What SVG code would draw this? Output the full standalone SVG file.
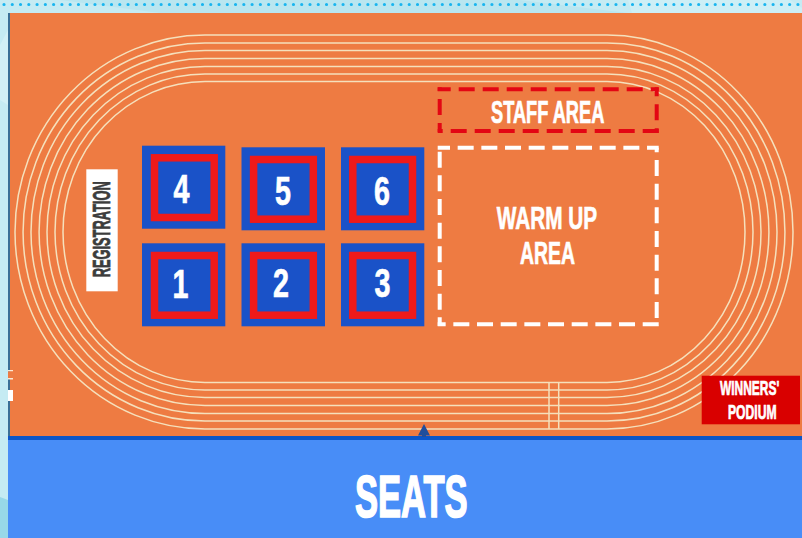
<svg xmlns="http://www.w3.org/2000/svg" width="802" height="538" viewBox="0 0 802 538">
<style>
text{font-family:"Liberation Sans",Arial,sans-serif;font-weight:700;fill:#fff;stroke:#fff;stroke-width:.6;vector-effect:non-scaling-stroke}
.track{fill:none;stroke:#f5e0bc;stroke-width:1.5}
.outer{fill:#1a52c8}
.inner{fill:#1a52c8;stroke:#ef1a1a;stroke-width:7.5}
.red{fill:none;stroke:#e30613;stroke-width:4;stroke-dasharray:16 8}
.white{fill:none;stroke:#fff;stroke-width:4;stroke-dasharray:16 7.67}
.d{font-size:41px}
</style>
<g id="background">
<rect width="802" height="538" fill="#c5ebf3"/>
<path d="M0 497L8 500V538H0Z" fill="#98d8e8"/>
<path d="M0 45L8 30V105L0 100Z" fill="#d2f0f6"/>
<path d="M60 0H520L628 13H160Z" fill="#b9e6f0"/>
<path d="M628 0H790L802 8V13H632Z" fill="#cdeff6"/>
<line x1="4" y1="4.5" x2="802" y2="4.5" stroke="#19b5ef" stroke-width="3.2" stroke-dasharray="0 8.27" stroke-linecap="round"/>
<rect x="8" y="13" width="794" height="423" fill="#ee7b42"/>
<rect x="8" y="13" width="2" height="423" fill="#3a6f96"/>
<rect x="8" y="370" width="5" height="1.5" fill="#fbe9d3"/>
<rect x="8" y="371.5" width="5" height="6.5" fill="#ee7b42"/>
<rect x="8" y="378" width="5" height="1.5" fill="#fbe9d3"/>
<rect x="8" y="390" width="5" height="11" fill="#fff"/>
</g>
<g id="track">
<path class="track" d="M205 35H607A186 197 0 0 1 607 429H205A190 197 0 0 1 205 35Z"/>
<path class="track" d="M205 43H607A178 189 0 0 1 607 421H205A182 189 0 0 1 205 43Z"/>
<path class="track" d="M205 50.5H607A170 181.5 0 0 1 607 413.5H205A174 181.5 0 0 1 205 50.5Z"/>
<path class="track" d="M205 58.5H607A162 173.5 0 0 1 607 405.5H205A166 173.5 0 0 1 205 58.5Z"/>
<path class="track" d="M205 66.5H607A154 165.5 0 0 1 607 397.5H205A158 165.5 0 0 1 205 66.5Z"/>
<path class="track" d="M205 74H607A146 158 0 0 1 607 390H205A150 158 0 0 1 205 74Z"/>
<path class="track" d="M205 81.5H607A138 150.5 0 0 1 607 382.5H205A142 150.5 0 0 1 205 81.5Z"/>
<line class="track" x1="549" y1="383" x2="549" y2="429"/>
<line class="track" x1="558.7" y1="383" x2="558.7" y2="429"/>
</g>
<g id="seats">
<rect x="8" y="440" width="794" height="98" fill="#488df7"/>
<rect x="8" y="436" width="794" height="4" fill="#0b55c8"/>
<text transform="translate(355 516.8) scale(.586 1)" font-size="59" style="stroke-width:1.4">SEATS</text>
</g>
<g id="entrance-marker"><path d="M424 424L430 435.5H426V437H422V435.5H418Z" fill="#1f4e9c"/></g>
<g id="registration">
<rect x="86.3" y="169.3" width="31.4" height="122" fill="#fff"/>
<text transform="translate(110.3 277.3) rotate(-90) scale(.558 1)" font-size="23" style="fill:#3c3c3c;stroke:#3c3c3c">REGISTRATION</text>
</g>
<g id="mat-4"><rect class="outer" x="142" y="145.7" width="83.3" height="83"/><rect class="inner" x="154.5" y="157.8" width="59.7" height="59.7"/><text class="d" transform="translate(173.5 202.5) scale(.7 1)">4</text></g>
<g id="mat-5"><rect class="outer" x="241.5" y="147.3" width="83.5" height="83"/><rect class="inner" x="253.6" y="159.5" width="59.7" height="59.7"/><text class="d" transform="translate(275 204.5) scale(.7 1)">5</text></g>
<g id="mat-6"><rect class="outer" x="341" y="147.3" width="83.3" height="83"/><rect class="inner" x="352.8" y="159.5" width="59.7" height="59.7"/><text class="d" transform="translate(374 204.5) scale(.7 1)">6</text></g>
<g id="mat-1"><rect class="outer" x="142" y="243.3" width="83.3" height="83"/><rect class="inner" x="154.5" y="255.5" width="59.7" height="59.7"/><text class="d" transform="translate(172.5 298) scale(.7 1)">1</text></g>
<g id="mat-2"><rect class="outer" x="241.5" y="243.3" width="83.5" height="83"/><rect class="inner" x="253.6" y="255.5" width="59.7" height="59.7"/><text class="d" transform="translate(273 297) scale(.7 1)">2</text></g>
<g id="mat-3"><rect class="outer" x="341" y="243.3" width="83.3" height="83"/><rect class="inner" x="352.8" y="255.5" width="59.7" height="59.7"/><text class="d" transform="translate(374.5 296.5) scale(.7 1)">3</text></g>
<g id="staff-area">
<path class="red" stroke-dashoffset="3" d="M437.7 89.3H658.7"/>
<path class="red" stroke-dashoffset="7" d="M656.7 87.3V133"/>
<path class="red" d="M658.7 131H437.7"/>
<path class="red" stroke-dashoffset="7" d="M439.7 132V87.3"/>
<text transform="translate(491 122.5) scale(.588 1)" font-size="31">STAFF AREA</text>
</g>
<g id="warm-up-area">
<path class="white" stroke-dashoffset="3.7" d="M437.7 147.7H658.7"/>
<path class="white" stroke-dashoffset="11.4" d="M656.7 147.7V326"/>
<path class="white" d="M658.7 324.3H437.7"/>
<path class="white" stroke-dashoffset="19.7" d="M439.7 147.7V326"/>
<text transform="translate(496.7 229.3) scale(.65 1)" font-size="32">WARM UP</text>
<text transform="translate(520 263.5) scale(.607 1)" font-size="32">AREA</text>
</g>
<g id="winners-podium">
<rect x="701.7" y="375.7" width="98.3" height="48.6" fill="#d90000"/>
<text transform="translate(720 395) scale(.613 1)" font-size="19.5">WINNERS'</text>
<text transform="translate(728 418.7) scale(.624 1)" font-size="19.5">PODIUM</text>
</g>
</svg>
